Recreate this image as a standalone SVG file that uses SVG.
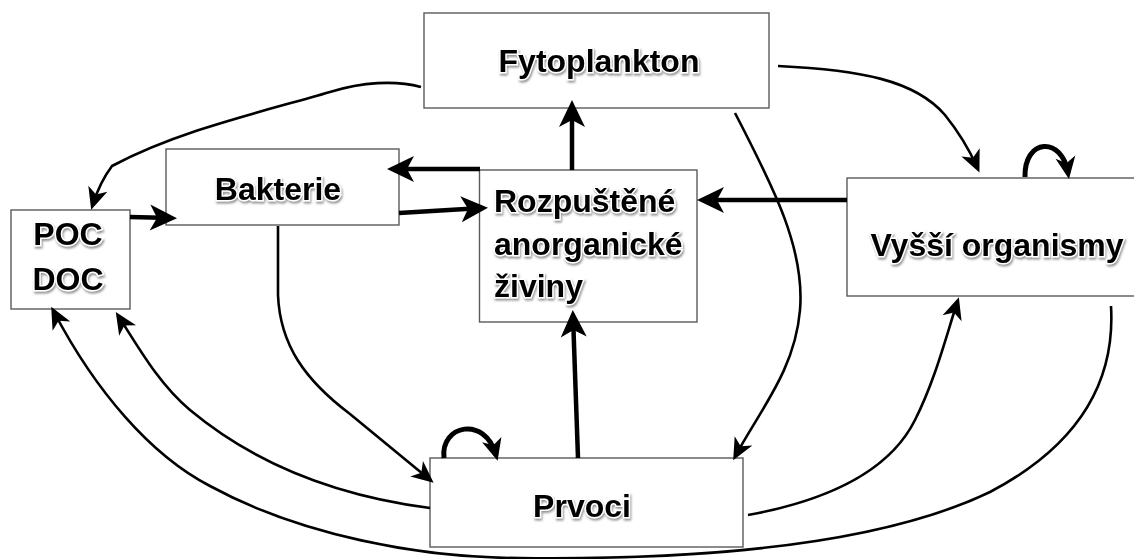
<svg xmlns="http://www.w3.org/2000/svg" width="1134" height="559" viewBox="0 0 1134 559">
<style>
.box{fill:#fff;stroke:#5a5a5a;stroke-width:1.4}
.lbl{font-family:"Liberation Sans",Arial,Helvetica,sans-serif;font-weight:bold;font-size:32px;fill:#000;stroke:#fff;stroke-width:3;paint-order:stroke;filter:url(#sh)}
.thick{fill:none;stroke:#000;stroke-width:4.5;marker-end:url(#big)}
.curve{fill:none;stroke:#000;stroke-width:2.6;marker-end:url(#small)}
.loop{fill:none;stroke:#000;stroke-width:5;marker-end:url(#small)}
</style>
<defs>
<filter id="sh" x="-10%" y="-20%" width="120%" height="150%">
<feDropShadow dx="1" dy="2" stdDeviation="1.2" flood-color="#7a7a7a" flood-opacity="0.8"/>
</filter>
<marker id="big" markerUnits="userSpaceOnUse" viewBox="-22 -14 30 28" markerWidth="30" markerHeight="28" refX="0" refY="0" orient="auto" overflow="visible">
<path d="M6,0 L-21,-13 L-14,0 L-21,13 Z" fill="#000"/>
</marker>
<marker id="small" markerUnits="userSpaceOnUse" viewBox="-18 -11 26 22" markerWidth="26" markerHeight="22" refX="0" refY="0" orient="auto" overflow="visible">
<path d="M6,0 L-16,-10 L-10,0 L-16,10 Z" fill="#000"/>
</marker>
</defs>

<g id="node-fytoplankton">
<rect class="box" x="424" y="13" width="345" height="95"/>
<text class="lbl" x="599" y="72" text-anchor="middle">Fytoplankton</text>
</g>
<g id="node-bakterie">
<rect class="box" x="166" y="149" width="233" height="76"/>
<text class="lbl" x="278" y="200" text-anchor="middle">Bakterie</text>
</g>
<g id="node-pocdoc">
<rect class="box" x="11" y="210" width="119" height="99"/>
<text class="lbl" x="68" y="245" text-anchor="middle">POC</text>
<text class="lbl" x="68" y="290" text-anchor="middle">DOC</text>
</g>
<g id="node-rozpustene">
<rect class="box" x="479.5" y="170" width="217.5" height="152"/>
<text class="lbl" x="494" y="212">Rozpuštěné</text>
<text class="lbl" x="494" y="255">anorganické</text>
<text class="lbl" x="494" y="297">živiny</text>
</g>
<g id="node-vyssi">
<rect class="box" x="847" y="178" width="300" height="118"/>
<text class="lbl" x="997" y="256" text-anchor="middle">Vyšší organismy</text>
</g>
<g id="node-prvoci">
<rect class="box" x="430" y="458" width="313" height="89"/>
<text class="lbl" x="582" y="517" text-anchor="middle">Prvoci</text>
</g>

<g id="connectors">
<path class="curve" d="M421,87 C395,80 362,82 330,92 C262,112 180,130 112,166 Q100,182 93,204"/>
<path class="thick" d="M130,217 L171,218"/>
<path class="thick" d="M399,213 L482,208"/>
<path class="thick" d="M480,169 L393,169"/>
<path class="thick" d="M572,170 L572,106"/>
<path class="thick" d="M578,458 L573,316"/>
<path class="thick" d="M847,200 L703,200"/>
<path class="curve" d="M778,66 C860,70 915,80 945,115 Q965,140 977,167"/>
<path class="curve" d="M735,113 C775,190 805,250 800,310 C795,370 760,410 736,455"/>
<path class="curve" d="M278,226 L278,295 C280,345 305,380 350,414 L429,479"/>
<path class="curve" d="M430,508 C330,495 250,460 190,410 C160,385 140,350 119,317"/>
<path class="curve" d="M1111,306 C1116,390 1070,450 990,492 C880,545 700,560 520,558 C420,558 300,535 210,486 C150,455 95,390 54,312"/>
<path class="curve" d="M748,515 C830,500 890,470 915,420 C935,380 945,340 957,303"/>
<path class="loop" d="M444,458 C440,425 485,415 496,455"/>
<path class="loop" d="M1025,177 C1024,138 1062,136 1068,173"/>
</g>
</svg>
